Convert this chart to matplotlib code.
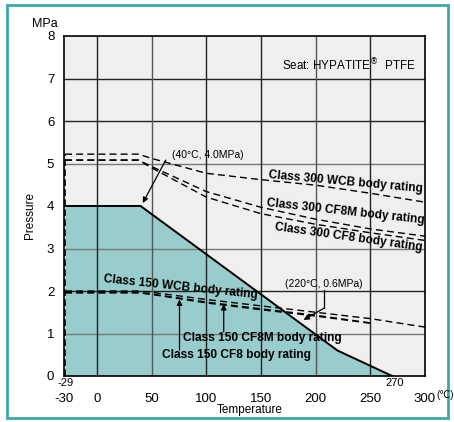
import numpy as np
import matplotlib
matplotlib.use("Agg")
import matplotlib.pyplot as plt
from matplotlib.patches import Rectangle

plt.rcParams['font.family'] = ['Liberation Sans', 'DejaVu Sans']
plt.rcParams['axes.unicode_minus'] = False

# seat rating (filled area)
seat_t = [-29, 40, 220, 270]
seat_p = [4.0, 4.0, 0.6, 0.0]

# class 300 body ratings
t300 = [-29, 38, 50, 100, 150, 200, 250, 300]
wcb300 = [5.22, 5.22, 5.12, 4.77, 4.62, 4.49, 4.30, 4.09]
cf8m300 = [5.08, 5.08, 4.93, 4.34, 3.97, 3.69, 3.46, 3.29]
cf8_300 = [5.08, 5.08, 4.90, 4.21, 3.82, 3.57, 3.37, 3.19]

# class 150 body ratings
t150_wcb = [-29, 38, 50, 100, 150, 200, 250, 300]
wcb150 = [2.0, 2.0, 1.97, 1.80, 1.65, 1.50, 1.35, 1.15]
t150_ss = [-29, 38, 50, 100, 150, 200, 250]
cf8m150 = [1.96, 1.96, 1.93, 1.74, 1.58, 1.43, 1.25]
cf8_150 = [1.96, 1.96, 1.92, 1.72, 1.56, 1.41, 1.24]

xticks = [-30, 0, 50, 100, 150, 200, 250, 300]
yticks = [0, 1, 2, 3, 4, 5, 6, 7, 8]

fig = plt.figure(figsize=(4.54, 4.22), dpi=100)
ax = fig.add_axes([64/454, 46/422, 361/454, 340/422])
ax.set_facecolor('#efefef')
ax.set_xlim(-30, 300)
ax.set_ylim(0, 8)

# grid
for y in [1, 2, 3, 5, 6, 7]:
    c = '#777777' if y in (1, 3, 5) else '#222222'
    ax.axhline(y, color=c, lw=1.0, zorder=1)
for x in [0, 50, 100, 150, 200, 250]:
    c = '#555555' if x in (50, 200) else '#222222'
    ax.axvline(x, color=c, lw=1.0, zorder=1)

ax.fill_between(seat_t, seat_p, 0, color='#99cccc', zorder=0.5, lw=0)
ax.plot(seat_t, seat_p, color='black', lw=1.4, zorder=3)

dash = dict(color='black', lw=1.0, dashes=(5, 3), zorder=4)
ax.plot(t300, wcb300, **dash)
ax.plot(t300, cf8m300, **dash)
ax.plot(t300, cf8_300, **dash)
ax.plot(t150_wcb, wcb150, **dash)
ax.plot(t150_ss, cf8m150, **dash)
ax.plot(t150_ss, cf8_150, **dash)
ax.plot([-29, -29], [0, 5.22], color='black', lw=1.2, dashes=(4, 2), zorder=4)

# labels on lines
bold = dict(fontsize=8.6, fontweight='bold', ha='left', va='center',
            rotation_mode='anchor', zorder=5)
ax.text(157, 4.72, 'Class 300 WCB body rating', rotation=-5.2, **bold)
ax.text(155, 4.08, 'Class 300 CF8M body rating', rotation=-6.3, **bold)
ax.text(163, 3.50, 'Class 300 CF8 body rating', rotation=-8.0, **bold)
ax.text(6, 2.27, 'Class 150 WCB body rating', rotation=-6.0, **bold)
ax.text(79, 0.89, 'Class 150 CF8M body rating', fontsize=8.6, fontweight='bold',
        ha='left', va='center', zorder=5)
ax.text(60, 0.49, 'Class 150 CF8 body rating', fontsize=8.6, fontweight='bold',
        ha='left', va='center', zorder=5)

arr = dict(arrowstyle='-|>', color='black', lw=0.9, mutation_scale=8,
           shrinkA=0, shrinkB=0)
ax.annotate('', xy=(116, 1.69), xytext=(116, 1.04), arrowprops=arr, zorder=5)
ax.annotate('', xy=(75.6, 1.80), xytext=(75.6, 0.61), arrowprops=arr, zorder=5)

# point annotations
ax.text(69, 5.2, '(40°C, 4.0MPa)', fontsize=7.5, ha='left', va='center')
ax.annotate('', xy=(42, 4.07), xytext=(63, 5.08), arrowprops=arr, zorder=5)
ax.text(172, 2.16, '(220°C, 0.6MPa)', fontsize=7.5, ha='left', va='center')
ax.plot([208, 208], [2.02, 1.6], color='black', lw=0.9, zorder=5)
ax.annotate('', xy=(189, 1.32), xytext=(208, 1.6), arrowprops=arr, zorder=5)

ax.text(291, 7.32, 'Seat: HYPATITE$^{®}$  PTFE', fontsize=8.4, ha='right', va='center')

# axes
ax.set_xticks(xticks)
ax.set_yticks(yticks)
ax.tick_params(length=0, labelsize=9.5)
ax.tick_params(axis='x', pad=12)
ax.tick_params(axis='y', pad=7)
for s in ax.spines.values():
    s.set_linewidth(1.2)

fig.text(45/454, 1-24/422, 'MPa', fontsize=9, ha='center', va='center')
fig.text(30/454, 1-216/422, 'Pressure', fontsize=8.5, rotation=90, ha='center', va='center')
fig.text(250/454, 1-410/422, 'Temperature', fontsize=8.5, ha='center', va='center')
fig.text(445/454, 1-395/422, '(℃)', fontsize=7, ha='center', va='center')
fig.text(66/454, 1-383/422, '-29', fontsize=8, ha='center', va='center')
fig.text(395/454, 1-383/422, '270', fontsize=8, ha='center', va='center')

fig.add_artist(Rectangle((7/454, 4/422), 441/454, 413/422, transform=fig.transFigure,
                         fill=False, edgecolor='#3aa8a8', lw=2))

fig.savefig('out.png', dpi=100)
